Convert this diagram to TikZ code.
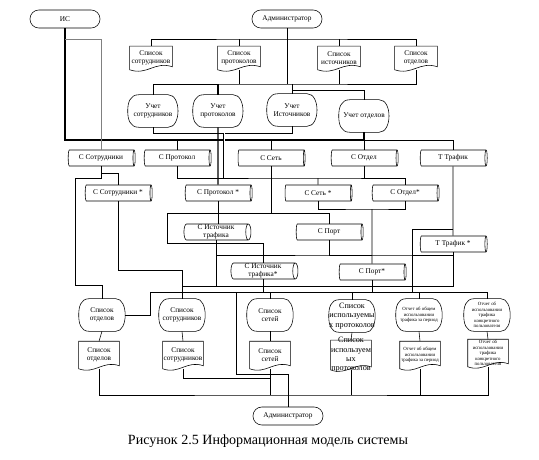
\documentclass[tikz,border=0pt]{standalone}
\usepackage{fontspec}
\setmainfont{Liberation Serif}
\usetikzlibrary{shapes.geometric,calc}
\newcommand{\docshape}[1]{\draw (#1.north west) -- (#1.north east) -- ($(#1.south east)+(0,-3)$) .. controls ($(#1.south)+(4,-9)$) and ($(#1.south)+(-4,6)$) .. (#1.south west) -- cycle;}
\newcommand{\dispshape}[1]{\draw ($(#1.north west)!0.22!(#1.north east)$) -- ($(#1.north west)!0.8!(#1.north east)$) .. controls ($(#1.north east)+(3,0)$) and ($(#1.south east)+(3,0)$) .. ($(#1.south west)!0.8!(#1.south east)$) -- ($(#1.south west)!0.22!(#1.south east)$) .. controls ($(#1.south west)!0.04!(#1.south east)$) and ($(#1.west)+(0,8)$) .. (#1.west) .. controls ($(#1.west)+(0,-8)$) and ($(#1.north west)!0.04!(#1.north east)$) .. ($(#1.north west)!0.22!(#1.north east)$) -- cycle;}
\begin{document}
\begin{tikzpicture}[x=0.025cm,y=-0.025cm,line width=0.4pt,
  txt/.style={inner sep=0pt,align=center,font=\fontsize{5.2}{6}\selectfont},
  term/.style={txt,draw,rounded corners=0.22cm,minimum width=1.75cm,minimum height=0.45cm},
  lst/.style={txt,minimum width=1.05cm,minimum height=0.575cm},
  ucht/.style={txt,minimum width=1.25cm,minimum height=0.8cm},
  cyl/.style={txt,cylinder,draw,aspect=0.35,minimum height=1.675cm,minimum width=0.4cm},
  rep/.style={txt,minimum width=1.15cm,minimum height=0.8cm},
  rdoc/.style={txt,minimum width=1.0cm,minimum height=0.675cm},
  tiny/.style={font=\fontsize{3.4}{4}\selectfont},
  big/.style={font=\fontsize{5.8}{6.6}\selectfont},
  bus/.style={line width=1pt}]
\useasboundingbox (0,0) rectangle (539,460);
% terminals
\node[term] (is) at (65,19) {ИС};
\node[term] (adm) at (287,19) {Администратор};
\node[term] (adm2) at (288,416) {Администратор};
% lists on top
\node[lst] (lsotr) at (151,58) {Список\\сотрудников};\docshape{lsotr}
\node[lst] (lprot) at (239,58) {Список\\протоколов};\docshape{lprot}
\node[lst] (list) at (339,58) {Список\\источников};\docshape{list}
\node[lst] (lotd) at (416,58) {Список\\отделов};\docshape{lotd}
% accounting
\node[ucht] (usotr) at (153,111) {Учет\\сотрудников};\dispshape{usotr}
\node[ucht] (uprot) at (218,111) {Учет\\протоколов};\dispshape{uprot}
\node[ucht] (uist) at (292,110) {Учет\\Источников};\dispshape{uist}
\node[ucht] (uotd) at (364,116) {Учет отделов};\dispshape{uotd}
% stores
\node[cyl] (csotr) at (101,158) {С Сотрудники};
\node[cyl] (cprot) at (177,158) {С Протокол};
\node[cyl] (cset) at (271,158) {С Сеть};
\node[cyl] (cotd) at (364,158) {С Отдел};
\node[cyl] (ttraf) at (453,158) {Т Трафик};
\node[cyl] (csotr2) at (118,193) {С Сотрудники *};
\node[cyl] (cprot2) at (218,193) {С Протокол *};
\node[cyl] (cset2) at (318,193) {С Сеть *};
\node[cyl] (cotd2) at (405,193) {С Отдел*};
\node[cyl] (cist) at (216,232) {С Источник\\трафика};
\node[cyl] (cport) at (329,232) {С Порт};
\node[cyl] (ttraf2) at (453,244) {Т Трафик *};
\node[cyl] (cist2) at (263,271) {С Источник\\трафика*};
\node[cyl] (cport2) at (372,272) {С Порт*};
% reports
\node[rep] (rotd) at (102,315) {Список\\отделов};\dispshape{rotd}
\node[rep] (rsotr) at (182,315) {Список\\сотрудников};\dispshape{rsotr}
\node[rep] (rset) at (270,315) {Список\\сетей};\dispshape{rset}
\node[rep,big] (rprot) at (352,316) {Список\\используемы\\х протоколов};\dispshape{rprot}
\node[rep,tiny] (rtraf) at (419,315) {Отчет об общем\\использовании\\трафика за период};\dispshape{rtraf}
\node[rep,tiny] (rtraf2) at (487,315) {Отчет об\\использовании\\трафика\\конкретного\\пользователя};\dispshape{rtraf2}
\node[rdoc] (dotd) at (99,355) {Список\\отделов};\docshape{dotd}
\node[rdoc] (dsotr) at (183,355) {Список\\сотрудников};\docshape{dsotr}
\node[rdoc] (dset) at (270,355) {Список\\сетей};\docshape{dset}
\node[rdoc,big,inner ysep=-2pt] (dprot) at (351,355) {Список\\используем\\ых\\протоколов};\docshape{dprot}
\node[rdoc,tiny] (dtraf) at (420,355) {Отчет об общем\\использовании\\трафика за период};\docshape{dtraf}
\node[rdoc,tiny] (dtraf2) at (488,353) {Отчет об\\использовании\\трафика\\конкретного\\пользователя};\docshape{dtraf2}
\node[font=\fontsize{10}{12}\selectfont] (cap) at (268,441) {Рисунок 2.5 Информационная модель системы};
% junctions
\coordinate (tb) at (280,39);\coordinate (bb) at (280,84);\coordinate (j90) at (292,90);
\coordinate (b1) at (200,140);\coordinate (j133) at (224,133);\coordinate (bus2) at (318,178);
\coordinate (fl) at (75,178);\coordinate (g1) at (167,213);\coordinate (bus3) at (372,209);
\coordinate (k255) at (372,255);\coordinate (k270) at (182,270);\coordinate (t229) at (453,229);
\coordinate (b286) at (183,286);\coordinate (bus4) at (150,292);\coordinate (a374) at (236,374);
\coordinate (a378) at (263,378);\coordinate (bf) at (288,395);
% top block
\draw (lsotr.north) |- (tb) -| (lotd.north);
\draw (lprot.north) -- (lprot.north |- tb);\draw (list.north) -- (list.north |- tb);
\draw (usotr.north) |- (bb) -| (lotd.south);
\draw (lprot.south) -- (lprot.south |- bb);\draw (list.south) -- (list.south |- bb);
\draw (adm.south) -- (adm.south |- bb);
\draw[bus] (uprot.north) -- (uprot.north |- bb);
\draw (uist.north) -- (uist.north |- bb);\draw (j90) -| (uotd.north);
\draw[bus] (is.south) |- (b1) -| (uotd.south);
\draw[gray] (is.south |- tb) -| (csotr.north);
\draw[bus] (uprot.south) -- (cprot2.north);
\draw (usotr.south) |- (j133);\draw (uist.south) |- (j133);
\draw[double,double distance=0.6pt] (j133) -- (j133 |- bus2);
% stores
\draw (cprot.north) -- (cprot.north |- b1);\draw (cset.north) -- (cset.north |- b1);
\draw (cotd.north) -- (cotd.north |- b1);\draw (uotd.south |- b1) -| (ttraf.north);
\draw (csotr.south) -- ++(0,7) -| (csotr2.north);
\draw (cprot.south) |- (bus2) -| (cotd2.north);\draw (bus2) -- (cset2.north);
\draw (cotd.south) -- (cotd.south |- bus2);
\draw (cset.south) |- (g1) -- ++(0,30) -| (cist2.north);
\draw (cset.south |- g1) -| (cport.north);
\draw (ttraf.south) -- (ttraf2.north);
\draw (rotd.north) -- ++(0,-13) -| (fl) -| (csotr.south);
\draw (csotr2.south) |- (k270) -- (rsotr.north);
\draw (cprot2.south) -- (cprot2.south |- cist.north);
\draw (cset2.south) |- (bus3) -| (cotd2.south);\draw (bus3) -- (cport2.north);
\draw (cport.south) |- (k255);\draw (cist.south) |- (k255) -| (ttraf2.south);
\draw (cist.south) -- (cist.south |- b286);\draw (ttraf2.south) |- (b286);
\draw (t229) -- ++(-41,0) -- ++(0,63);
\draw (cist2.south) -- (cist2.south |- bus4);\draw (cport2.south) -- (cport2.south |- bus4);
% reports
\draw (rotd.east) -| (bus4) -| (rtraf2.north);
\foreach \r in {rset,rprot,rtraf} \draw (\r.north) -- (\r.north |- bus4);
\foreach \a/\b in {rotd/dotd,rsotr/dsotr,rset/dset,rprot/dprot,rtraf/dtraf,rtraf2/dtraf2} \draw (\a.south) -- (\b.north);
\draw (dotd.south) |- (bf) -| (dtraf2.south);
\foreach \d in {dset,dprot,dtraf} \draw (\d.south) -- (\d.south |- bf);
\draw (dsotr.south) |- (dset.south |- a378);
\draw (adm2.north) |- (a374) -- (a374 |- bus4);
\end{tikzpicture}
\end{document}
